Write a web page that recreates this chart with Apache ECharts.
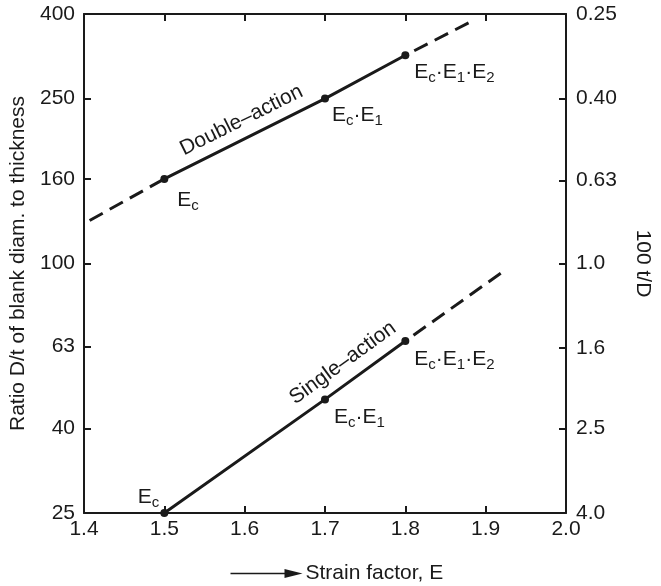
<!DOCTYPE html>
<html>
<head>
<meta charset="utf-8">
<script src="https://cdn.jsdelivr.net/npm/echarts@6/dist/echarts.min.js"></script>
<style>
  html, body { margin: 0; padding: 0; background: #fff; }
  #chart { width: 661px; height: 586px; }
</style>
</head>
<body>
<div id="chart"></div>
<script>
// Left axis: ratio D/t (log scale); right axis: 100 t/D (reciprocal, log scale)
const ratioTicks = [25, 40, 63, 100, 160, 250, 400];
const inverseTicks = [4.0, 2.5, 1.6, 1.0, 0.63, 0.40, 0.25];
const inverseTickLabels = ['4.0', '2.5', '1.6', '1.0', '0.63', '0.40', '0.25'];

// Double-action drawing: measured points and extrapolated ends
const doubleSolid = [[1.5, 160], [1.7, 250], [1.8, 318]];
const doubleLeft = [[1.407, 127], [1.5, 160]];
const doubleRight = [[1.8, 318], [1.886, 387]];

// Single-action drawing
const singleSolid = [[1.5, 25], [1.7, 47], [1.8, 65]];
const singleRight = [[1.8, 65], [1.923, 96]];

// Point annotations (rich text with subscripts)
const pointLabels = ['E{s|c}', 'E{s|c}·E{s|1}', 'E{s|c}·E{s|1}·E{s|2}'];

const FONT = '"Liberation Sans", Arial, Helvetica, sans-serif';
const INK = '#1a1a1a';
const FS = 21;

const rich = {
  s: { fontSize: 15, lineHeight: 12, verticalAlign: 'bottom', fontFamily: FONT, color: INK }
};

function labelled(points, offsets, aligns) {
  return points.map((p, i) => ({
    value: p,
    label: {
      show: true,
      position: 'inside',
      align: aligns[i],
      verticalAlign: 'middle',
      offset: offsets[i],
      formatter: pointLabels[i],
      fontSize: FS,
      lineHeight: 26,
      fontFamily: FONT,
      color: INK,
      rich: rich
    }
  }));
}

const chart = echarts.init(document.getElementById('chart'), null, { renderer: 'canvas' });

const axisLineStyle = { color: INK, width: 2 };
const tickStyle = { inside: true, length: 7, lineStyle: { color: INK, width: 2 } };
const labelFont = { fontSize: FS, fontFamily: FONT, color: INK };

const solidLine = { color: INK, width: 3, type: 'solid', cap: 'round' };
const dashLine = { color: INK, width: 3, type: [15, 8] };

chart.setOption({
  animation: false,
  backgroundColor: '#fff',
  grid: { left: 80, right: 85, top: 14, bottom: 73 },
  xAxis: [
    {
      type: 'value', position: 'bottom', min: 1.4, max: 2.0, interval: 0.1,
      axisLine: { show: true, lineStyle: axisLineStyle },
      axisTick: tickStyle,
      axisLabel: Object.assign({ margin: 6, formatter: v => v.toFixed(1) }, labelFont),
      splitLine: { show: false }
    },
    {
      type: 'value', position: 'top', min: 1.4, max: 2.0, interval: 0.1,
      axisLine: { show: true, lineStyle: axisLineStyle },
      axisTick: tickStyle,
      axisLabel: { show: false },
      splitLine: { show: false }
    }
  ],
  yAxis: [
    {
      type: 'log', position: 'left', min: 25, max: 400, logBase: 10,
      name: 'Ratio D/t of blank diam. to thickness',
      nameLocation: 'middle', nameGap: 55, nameRotate: 90,
      nameTextStyle: { fontSize: FS, fontFamily: FONT, color: INK },
      axisLine: { show: true, lineStyle: axisLineStyle },
      axisTick: Object.assign({ customValues: ratioTicks }, tickStyle),
      axisLabel: Object.assign({ customValues: ratioTicks, margin: 9, formatter: v => String(Math.round(v)) }, labelFont),
      splitLine: { show: false },
      minorTick: { show: false }
    },
    {
      type: 'log', position: 'right', min: 0.25, max: 4, inverse: true, logBase: 10,
      name: '100 t/D',
      nameLocation: 'middle', nameGap: 66, nameRotate: -90,
      nameTextStyle: { fontSize: FS, fontFamily: FONT, color: INK },
      axisLine: { show: true, lineStyle: axisLineStyle },
      axisTick: Object.assign({ customValues: inverseTicks }, tickStyle),
      axisLabel: Object.assign({
        customValues: inverseTicks, margin: 10,
        formatter: v => {
          let best = 0;
          inverseTicks.forEach((t, i) => { if (Math.abs(t - v) < Math.abs(inverseTicks[best] - v)) best = i; });
          return inverseTickLabels[best];
        }
      }, labelFont),
      splitLine: { show: false },
      minorTick: { show: false }
    }
  ],
  series: [
    { type: 'line', data: doubleLeft, symbol: 'none', lineStyle: dashLine, silent: true, z: 2 },
    { type: 'line', data: doubleRight, symbol: 'none', lineStyle: Object.assign({ dashOffset: 13 }, dashLine), silent: true, z: 2 },
    { type: 'line', data: singleRight, symbol: 'none', lineStyle: Object.assign({ dashOffset: 13 }, dashLine), silent: true, z: 2 },
    {
      type: 'line', name: 'Double–action',
      data: labelled(doubleSolid, [[13, 21], [7, 17], [9, 17]], ['left', 'left', 'left']),
      symbol: 'circle', symbolSize: 8, itemStyle: { color: INK },
      lineStyle: solidLine, z: 3
    },
    {
      type: 'line', name: 'Single–action',
      data: labelled(singleSolid, [[-5, -16], [9, 18], [9, 18]], ['right', 'left', 'left']),
      symbol: 'circle', symbolSize: 8, itemStyle: { color: INK },
      lineStyle: solidLine, z: 3
    }
  ]
});

// Curve names written along their lines, placed from data coordinates
function alongLabel(text, a, b, frac, lift) {
  const p0 = chart.convertToPixel({ xAxisIndex: 0, yAxisIndex: 0 }, a);
  const p1 = chart.convertToPixel({ xAxisIndex: 0, yAxisIndex: 0 }, b);
  const dx = p1[0] - p0[0], dy = p1[1] - p0[1];
  const len = Math.hypot(dx, dy);
  const ux = dx / len, uy = dy / len;
  // perpendicular pointing above the line
  const nx = uy, ny = -ux;
  return {
    type: 'text',
    x: p0[0] + ux * len * frac + nx * lift,
    y: p0[1] + uy * len * frac + ny * lift,
    rotation: Math.atan2(-dy, dx),
    style: {
      text: text, fontSize: FS, fontFamily: FONT, fill: INK,
      align: 'center', verticalAlign: 'middle'
    },
    silent: true
  };
}

const H = 586;
chart.setOption({
  graphic: [
    alongLabel('Double–action', doubleSolid[0], doubleSolid[1], 0.53, 18),
    alongLabel('Single–action', singleSolid[1], singleSolid[2], 0.36, 19),
    // x-axis title with leading arrow
    {
      type: 'group', left: 228, top: H - 23,
      children: [
        { type: 'line', shape: { x1: 0, y1: 10, x2: 58, y2: 10 }, style: { stroke: INK, lineWidth: 1.6 } },
        { type: 'polygon', shape: { points: [[54, 5.5], [72, 10], [54, 14.5]] }, style: { fill: INK } },
        { type: 'text', x: 75, y: 10, style: { text: 'Strain factor, E', fontSize: FS, fontFamily: FONT, fill: INK, verticalAlign: 'middle', align: 'left' } }
      ]
    }
  ]
});
</script>
</body>
</html>
